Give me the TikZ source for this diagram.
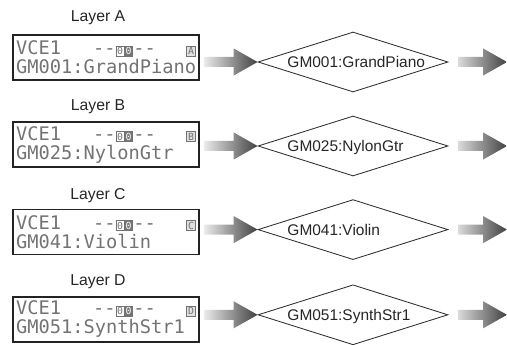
\documentclass[tikz,border=0pt]{standalone}
\usepackage{fontspec}
\setmainfont{Liberation Sans}
\newfontfamily\lcdfont{DejaVu Sans Mono}
\usepackage{xcolor}
\usepackage{tikz}
\usetikzlibrary{shapes.geometric,calc}
\definecolor{lcdtext}{RGB}{115,115,115}
\definecolor{lcdframe}{RGB}{35,35,35}
\definecolor{diagline}{RGB}{45,45,45}
\definecolor{arrowdark}{RGB}{65,65,65}
\definecolor{arrowlight}{RGB}{248,248,248}
\newcommand{\lcdsel}{{\setlength{\fboxsep}{0.6pt}\setlength{\fboxrule}{0.6pt}%
\fcolorbox{lcdtext}{white}{\scriptsize 0}\kern-0.6pt\fcolorbox{lcdtext}{lcdtext}{\scriptsize\color{white}0}}}
\newcommand{\lcdlay}[1]{{\setlength{\fboxsep}{0.7pt}\setlength{\fboxrule}{0.6pt}%
\fcolorbox{lcdtext}{black!12}{\scriptsize #1}}}

\begin{document}
\begin{tikzpicture}[
lcd/.style={draw=lcdframe, line width=1.2pt, minimum width=4.65cm, minimum height=1.125cm,
text width=4.5cm, align=left, inner sep=0pt, text=lcdtext,
font=\lcdfont\fontsize{13.3}{13.5}\selectfont},
layer/.style={font=\fontsize{11.2}{13}\selectfont, text=black!85},
voice/.style={draw, diamond, draw=diagline, line width=0.6pt, minimum width=4.75cm,
minimum height=1.5cm, inner sep=0pt},
vname/.style={anchor=west, inner sep=0pt, text height=8pt, text depth=0pt,
font=\fontsize{11}{13}\selectfont, text=black!85},
fat/.style={left color=arrowlight, middle color=arrowdark!75!white, right color=arrowdark,
to path={($(\tikztostart |- \tikztotarget)+(#1,-0.125)$)
-- ($(\tikztotarget)+(-0.6,-0.125)$) -- ($(\tikztotarget)+(-0.6,-0.34)$)
-- (\tikztotarget) -- ($(\tikztotarget)+(-0.6,0.34)$)
-- ($(\tikztotarget)+(-0.6,0.125)$) -- ($(\tikztostart |- \tikztotarget)+(#1,0.125)$) -- cycle}}
]
\useasboundingbox (0,0) rectangle (12.675,8.6);

\node[layer] (lA) at (2.45,8.15) {Layer A};
\node[layer] (lB) at (2.45,5.93) {Layer B};
\node[layer] (lC) at (2.45,3.71) {Layer C};
\node[layer] (lD) at (2.45,1.56) {Layer D};

\node[lcd] (bA) at (2.65,7.16) {VCE1\hspace{0.8cm}--\lcdsel--\hfill\lcdlay{A}\\GM001:GrandPiano};
\node[lcd] (bB) at (2.65,4.98) {VCE1\hspace{0.8cm}--\lcdsel--\hfill\lcdlay{B}\\GM025:NylonGtr};
\node[lcd] (bC) at (2.65,2.80) {VCE1\hspace{0.8cm}--\lcdsel--\hfill\lcdlay{C}\\GM041:Violin};
\node[lcd] (bD) at (2.65,0.62) {VCE1\hspace{0.8cm}--\lcdsel--\hfill\lcdlay{D}\\GM051:SynthStr1};

\node[voice] (dA) at (8.825,7.05) {};
\node[voice] (dB) at (8.825,4.95) {};
\node[voice] (dC) at (8.825,2.86) {};
\node[voice] (dD) at (8.825,0.73) {};

\node[vname] (tA) at (7.18,7.05) {GM001:GrandPiano};
\node[vname] (tB) at (7.18,4.95) {GM025:NylonGtr};
\node[vname] (tC) at (7.18,2.86) {GM041:Violin};
\node[vname] (tD) at (7.18,0.73) {GM051:SynthStr1};

\coordinate (eA) at (12.675,7.05);
\coordinate (eB) at (12.675,4.95);
\coordinate (eC) at (12.675,2.86);
\coordinate (eD) at (12.675,0.73);

\shade[fat=0.1] (bA.east) to (dA.west);
\shade[fat=0.1] (bB.east) to (dB.west);
\shade[fat=0.1] (bC.east) to (dC.west);
\shade[fat=0.1] (bD.east) to (dD.west);

\shade[fat=0.25] (dA.east) to (eA);
\shade[fat=0.25] (dB.east) to (eB);
\shade[fat=0.25] (dC.east) to (eC);
\shade[fat=0.25] (dD.east) to (eD);

\end{tikzpicture}
\end{document}
